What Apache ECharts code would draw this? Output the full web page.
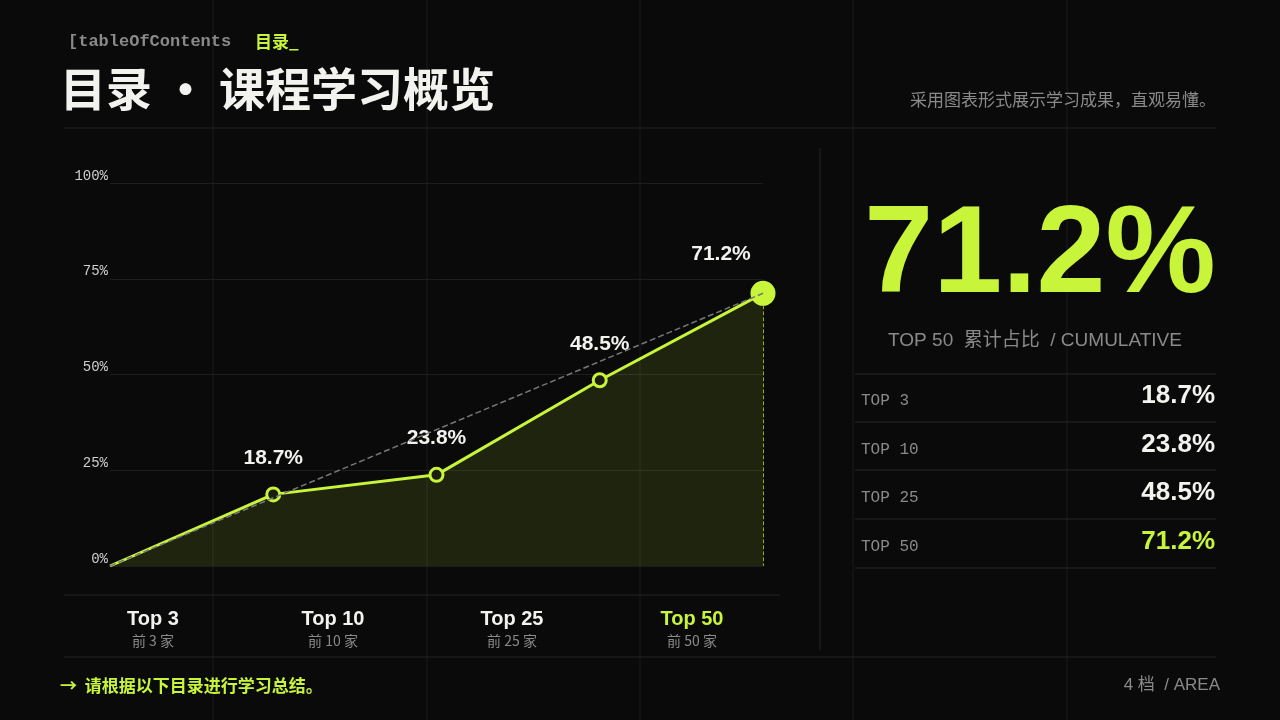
<!DOCTYPE html>
<html style="height: 100%">
<head>
  <meta charset="utf-8">
  <title>目录 · 课程学习概览</title>
  <script src="https://cdn.jsdelivr.net/npm/echarts@6/dist/echarts.min.js"></script>
</head>
<body style="height: 100%; margin: 0; background: #0a0a0a">
  <div id="main" style="width: 1280px; height: 720px"></div>
  <script type="text/javascript">
    var steps = ['0', 'Top 3', 'Top 10', 'Top 25', 'Top 50'];
    var values = [0, 18.7, 23.8, 48.5, 71.2];
    var tiers = ['Top 3', 'Top 10', 'Top 25', 'Top 50'];
    var tierSub = ['前 3 家', '前 10 家', '前 25 家', '前 50 家'];
    var tableKeys = ['TOP 3', 'TOP 10', 'TOP 25', 'TOP 50'];

    var lime = '#c8f53a';
    var mono = '"Liberation Mono", "DejaVu Sans Mono", monospace';
    var sans = '"Liberation Sans", "Noto Sans CJK SC", sans-serif';
    var cjk = '"Noto Sans CJK SC", sans-serif';
    var last = values.length - 1;

    function txt(x, y, text, fill, font, align, extra) {
      var s = { text: text, fill: fill, font: font, textAlign: align || 'left', textVerticalAlign: 'middle' };
      if (extra) for (var k in extra) s[k] = extra[k];
      return { type: 'text', x: x, y: y, style: s };
    }

    var graphic = [];
    [213, 427, 640, 853, 1067].forEach(function (x) {
      graphic.push({ type: 'line', shape: { x1: x, y1: 0, x2: x, y2: 720 }, style: { stroke: '#1a1a1a', lineWidth: 1 }, z: -10 });
    });
    graphic.push(
      { type: 'line', shape: { x1: 64, y1: 128, x2: 1216, y2: 128 }, style: { stroke: '#222', lineWidth: 1 } },
      { type: 'line', shape: { x1: 64, y1: 657, x2: 1216, y2: 657 }, style: { stroke: '#222', lineWidth: 1 } },
      { type: 'line', shape: { x1: 64, y1: 595, x2: 780, y2: 595 }, style: { stroke: '#222', lineWidth: 1 } },
      { type: 'line', shape: { x1: 820, y1: 148, x2: 820, y2: 650 }, style: { stroke: '#222', lineWidth: 1 } },
      txt(68, 42, '[tableOfContents', '#8a8a8a', 'bold 17px ' + mono),
      txt(255, 42, '目录_', lime, 'bold 17px ' + cjk),
      txt(60, 89, '目录 · 课程学习概览', '#f2f2ee', 'bold 46px ' + cjk, 'left', { letterSpacing: 1 }),
      txt(1216, 100, '采用图表形式展示学习成果，直观易懂。', '#8a8a8a', '17px ' + cjk, 'right', { letterSpacing: 1 }),
      txt(1040, 258, values[last] + '%', lime, 'bold 124px ' + sans, 'center', { letterSpacing: -5 }),
      txt(1035, 341, 'TOP 50  累计占比  / CUMULATIVE', '#8a8a8a', '19px ' + sans, 'center', { letterSpacing: 1 }),
      txt(60, 686, '→  请根据以下目录进行学习总结。', lime, 'bold 17px ' + cjk),
      txt(1220, 685, '4 档  / AREA', '#8a8a8a', '17px ' + sans, 'right', { letterSpacing: 1 })
    );
    [374, 422, 470, 519, 568].forEach(function (y) {
      graphic.push({ type: 'line', shape: { x1: 855, y1: y, x2: 1216, y2: y }, style: { stroke: '#262626', lineWidth: 1 } });
    });
    tableKeys.forEach(function (k, i) {
      var y = 374 + i * 48.5;
      graphic.push(
        txt(861, y + 27, k, '#8a8a8a', '16px ' + mono),
        txt(1215, y + 22, values[i + 1] + '%', i === 3 ? lime : '#f2f2ee', 'bold 26px ' + sans, 'right', { letterSpacing: -0.5 })
      );
    });
    var tierX = [153, 333, 512, 692];
    tiers.forEach(function (t, i) {
      graphic.push(
        txt(tierX[i], 619, t, i === 3 ? lime : '#f2f2ee', 'bold 20px ' + sans, 'center'),
        txt(tierX[i], 641, tierSub[i], '#8a8a8a', '14px ' + cjk, 'center', { letterSpacing: 3 })
      );
    });

    var option = {
      backgroundColor: '#0a0a0a',
      animation: false,
      graphic: graphic,
      grid: { left: 110, right: 517, top: 183, bottom: 154 },
      xAxis: {
        type: 'category', data: steps, boundaryGap: false,
        axisLine: { show: false }, axisTick: { show: false }, axisLabel: { show: false }, splitLine: { show: false }
      },
      yAxis: {
        type: 'value', min: 0, max: 100, interval: 25,
        axisLine: { show: false }, axisTick: { show: false },
        axisLabel: { color: '#cfcfcf', fontFamily: mono, fontSize: 14, formatter: '{value}%', margin: 2, verticalAlign: 'bottom' },
        splitLine: { lineStyle: { color: '#1e1e1e' } }
      },
      series: [{
        type: 'line',
        data: values.map(function (v, i) {
          if (i === 0) return { value: v, symbolSize: 0, label: { show: false } };
          if (i === last) return { value: v, symbol: 'circle', symbolSize: 22, itemStyle: { color: lime }, label: { distance: 16, offset: [-42, 0] } };
          return v;
        }),
        symbol: 'circle',
        symbolSize: 13,
        lineStyle: { color: lime, width: 3 },
        itemStyle: { color: '#1a1c0c', borderColor: lime, borderWidth: 3 },
        areaStyle: { color: 'rgba(200,245,58,0.16)' },
        label: {
          show: true, position: 'top', distance: 18, formatter: '{c}%',
          color: '#f2f2ee', fontFamily: sans, fontWeight: 'bold', fontSize: 21
        },
        markLine: {
          symbol: 'none', silent: true, label: { show: false },
          data: [
            [{ coord: [0, values[0]], lineStyle: { color: '#777', type: 'dashed', width: 1.5 } }, { coord: [last, values[last]] }],
            [{ coord: [last, values[last]], lineStyle: { color: lime, type: 'dashed', width: 1, opacity: 0.7 } }, { coord: [last, 0] }]
          ]
        }
      }]
    };

    var chart = echarts.init(document.getElementById('main'));
    chart.setOption(option);
  </script>
</body>
</html>
